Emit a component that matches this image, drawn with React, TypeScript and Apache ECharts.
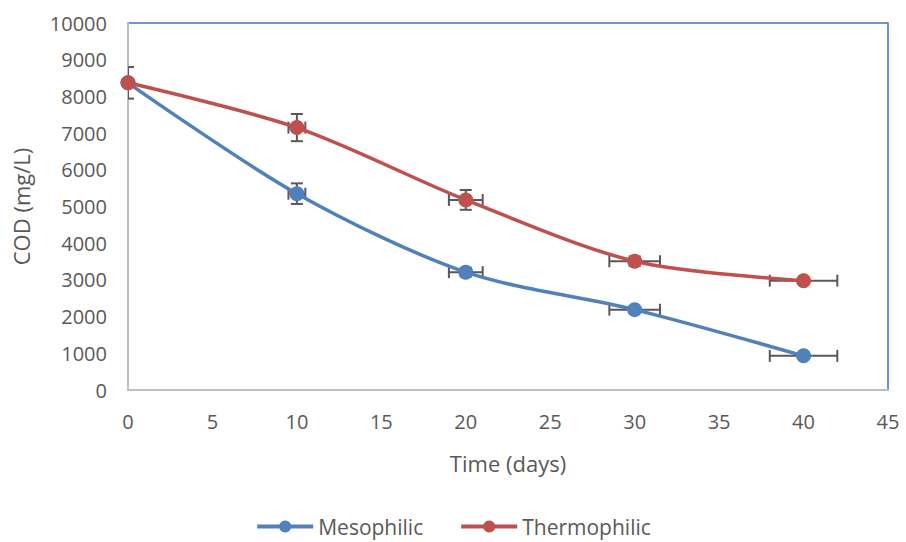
import React, { useEffect, useRef } from "react";
import * as echarts from "echarts";

const days = [0, 10, 20, 30, 40];
const mesophilic = [8370, 5350, 3210, 2190, 930];
const thermophilic = [8370, 7150, 5180, 3510, 2980];
const mesoXErr = [0, 0.5, 1, 1.5, 2];
const mesoYErr = [0, 280, 120, 0, 0];
const thermoXErr = [0, 0.5, 1, 1.5, 2];
const thermoYErr = [430, 370, 270, 130, 0];

const FONT = "'Open Sans', 'Liberation Sans', sans-serif";
const TXT = "#595959";

function errData(vals: number[], xe: number[], ye: number[]) {
  return days.map((d, i) => [d, vals[i], xe[i], ye[i]]);
}

function renderErr(params: any, api: any) {
  const x = api.value(0);
  const y = api.value(1);
  const xe = api.value(2);
  const ye = api.value(3);
  const children: any[] = [];
  const style = { stroke: "#595959", lineWidth: 2 };
  const cap = 6;
  if (ye > 0) {
    const top = api.coord([x, y + ye]);
    const bot = api.coord([x, y - ye]);
    children.push({ type: "line", shape: { x1: top[0], y1: top[1], x2: bot[0], y2: bot[1] }, style });
    children.push({ type: "line", shape: { x1: top[0] - cap, y1: top[1], x2: top[0] + cap, y2: top[1] }, style });
    children.push({ type: "line", shape: { x1: bot[0] - cap, y1: bot[1], x2: bot[0] + cap, y2: bot[1] }, style });
  }
  if (xe > 0) {
    const l = api.coord([x - xe, y]);
    const r = api.coord([x + xe, y]);
    children.push({ type: "line", shape: { x1: l[0], y1: l[1], x2: r[0], y2: r[1] }, style });
    children.push({ type: "line", shape: { x1: l[0], y1: l[1] - cap, x2: l[0], y2: l[1] + cap }, style });
    children.push({ type: "line", shape: { x1: r[0], y1: r[1] - cap, x2: r[0], y2: r[1] + cap }, style });
  }
  return { type: "group", children };
}

export default function App() {
  const ref = useRef<HTMLDivElement>(null);
  useEffect(() => {
    document.body.style.margin = "0";
    if (!ref.current) return;
    const chart = echarts.init(ref.current, undefined, { renderer: "svg" });
    chart.setOption({
      animation: false,
      textStyle: { fontFamily: FONT },
      grid: {
        left: 128,
        right: 18,
        top: 23,
        bottom: 152,
        show: true,
        borderColor: "#4472C4",
        borderWidth: 1.5,
      },
      legend: {
        bottom: 0,
        left: "center",
        itemWidth: 56,
        itemHeight: 15,
        itemGap: 36,
        lineStyle: { width: 4 },
        textStyle: { fontFamily: FONT, fontSize: 21, color: TXT },
        data: ["Mesophilic", "Thermophilic"],
      },
      xAxis: {
        type: "value",
        min: 0,
        max: 45,
        interval: 5,
        name: "Time (days)",
        nameLocation: "middle",
        nameGap: 62,
        nameTextStyle: { fontFamily: FONT, fontSize: 22, color: TXT },
        axisLine: { show: true, lineStyle: { color: "#BFBFBF", width: 2 } },
        axisTick: { show: false },
        splitLine: { show: false },
        axisLabel: {
          fontFamily: FONT,
          fontSize: 20,
          color: TXT,
          margin: 21,
          formatter: (v: number) => String(v),
        },
      },
      yAxis: {
        type: "value",
        min: 0,
        max: 10000,
        interval: 1000,
        name: "COD (mg/L)",
        nameLocation: "middle",
        nameGap: 96,
        nameTextStyle: { fontFamily: FONT, fontSize: 22, color: TXT },
        axisLine: { show: true, lineStyle: { color: "#BFBFBF", width: 2 } },
        axisTick: { show: false },
        splitLine: { show: false },
        axisLabel: {
          fontFamily: FONT,
          fontSize: 20,
          color: TXT,
          margin: 21,
          formatter: (v: number) => String(v),
        },
      },
      series: [
        {
          type: "custom",
          name: "mesoErr",
          renderItem: renderErr,
          data: errData(mesophilic, mesoXErr, mesoYErr),
          clip: true,
          z: 1,
          silent: true,
        },
        {
          type: "custom",
          name: "thermoErr",
          renderItem: renderErr,
          data: errData(thermophilic, thermoXErr, thermoYErr),
          clip: true,
          z: 1,
          silent: true,
        },
        {
          type: "line",
          name: "Mesophilic",
          data: days.map((d, i) => [d, mesophilic[i]]),
          smooth: 0.3,
          symbol: "circle",
          symbolSize: 15,
          color: "#4F81BD",
          lineStyle: { width: 3.5, color: "#4F81BD" },
          itemStyle: { color: "#4F81BD" },
          z: 3,
        },
        {
          type: "line",
          name: "Thermophilic",
          data: days.map((d, i) => [d, thermophilic[i]]),
          smooth: 0.3,
          symbol: "circle",
          symbolSize: 15,
          color: "#C0504D",
          lineStyle: { width: 3.5, color: "#C0504D" },
          itemStyle: { color: "#C0504D" },
          z: 4,
        },
      ],
    });
    return () => chart.dispose();
  }, []);
  return <div ref={ref} style={{ width: 906, height: 542 }} />;
}
